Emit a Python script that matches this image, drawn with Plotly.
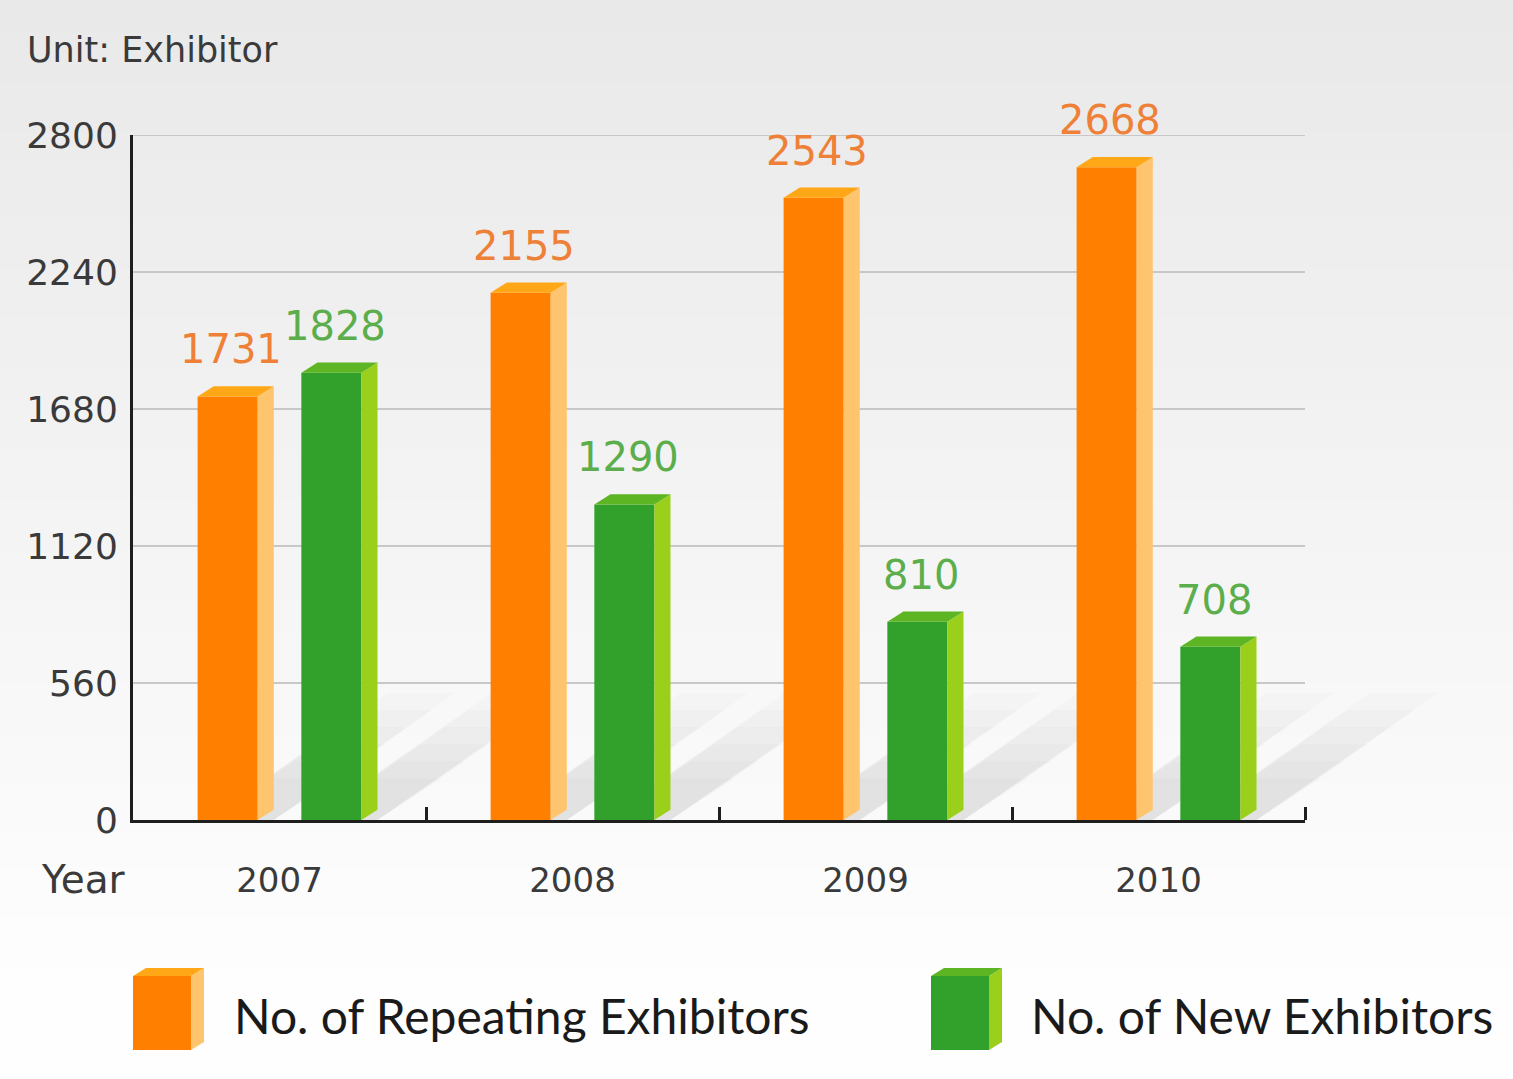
import plotly.graph_objects as go

# ---------------- data ----------------
years = ["2007", "2008", "2009", "2010"]
repeating = [1731, 2155, 2543, 2668]
new_exh = [1828, 1290, 810, 708]
y_ticks = [0, 560, 1120, 1680, 2240, 2800]
series_names = ["No. of Repeating Exhibitors", "No. of New Exhibitors"]

# ---------------- style ----------------
W_PX, H_PX = 1513, 1079
L, R, T, B = 133, 208, 135, 259
PW, PH = W_PX - L - R, H_PX - T - B

OFF = 0.177      # offset of each bar from category centre (x units)
BW = 0.205       # front face width (x units)
DEPTH = 0.055    # 3D depth (x units)
RISE = 42        # 3D rise (y units)

colors = {
    "rep": dict(front="#FF7F00", side="#FFC56E", top="#FFA716", label="#EE8037"),
    "new": dict(front="#32A12C", side="#9ACF1C", top="#5DB524", label="#5BAE4B"),
}
num_font = "DejaVu Sans"
leg_font = "Lato"
axis_text = "#3a3a3a"

centers = [i + 0.5 for i in range(len(years))]
X_RANGE = [0, len(years)]
Y_RANGE = [y_ticks[0], y_ticks[-1]]

fig = go.Figure()


def px2paper(px, py):
    return (px - L) / PW, (H_PX - B - py) / PH


def data2paper(x, y):
    return ((x - X_RANGE[0]) / (X_RANGE[1] - X_RANGE[0]),
            (y - Y_RANGE[0]) / (Y_RANGE[1] - Y_RANGE[0]))


# background gradient
shapes = []
n_bands = 60
for i in range(n_bands):
    y0p = i * 1000 / n_bands
    y1p = (i + 1) * 1000 / n_bands + 1
    t = i / (n_bands - 1)
    g = int(round(0xE9 + (0xFE - 0xE9) * t))
    c = f"rgb({g},{g},{g})"
    x0, y0 = px2paper(0, y0p)
    x1, y1 = px2paper(W_PX, y1p)
    shapes.append(dict(type="rect", xref="paper", yref="paper", x0=x0, x1=x1,
                       y0=y1, y1=y0, fillcolor=c, line=dict(width=0), layer="below"))
x0, y0 = px2paper(0, 1000)
x1, y1 = px2paper(W_PX, H_PX)
shapes.append(dict(type="rect", xref="paper", yref="paper", x0=x0, x1=x1, y0=y1, y1=y0,
                   fillcolor="#FEFEFE", line=dict(width=0), layer="below"))
# top gridline (at the range edge)
shapes.append(dict(type="line", xref="paper", yref="y", x0=0, x1=1,
                   y0=y_ticks[-1], y1=y_ticks[-1],
                   line=dict(color="#C8C8C8", width=2), layer="below"))


def add_shadows(vals, sign):
    xs_front_left = [c + sign * OFF - BW / 2 for c in centers]
    for xl, v in zip(xs_front_left, vals):
        xr = xl + BW + DEPTH
        for dx, dy in ((0.62, 520), (0.54, 450), (0.46, 380), (0.38, 310),
                       (0.30, 240), (0.22, 170)):
            pts = [data2paper(xl + 0.03, 0), data2paper(xr, 0),
                   data2paper(xr + dx, dy), data2paper(xl + 0.03 + dx, dy)]
            path = "M " + " L ".join(f"{x},{y}" for x, y in pts) + " Z"
            shapes.append(dict(type="path", xref="paper", yref="paper", path=path,
                               fillcolor="rgba(80,80,80,0.022)", line=dict(width=0),
                               layer="below"))


def add_series(vals, key, sign, name):
    col = colors[key]
    xs_front_left = [c + sign * OFF - BW / 2 for c in centers]
    # front faces
    fig.add_trace(go.Bar(
        x=centers, y=vals, width=BW, offset=sign * OFF - BW / 2,
        marker=dict(color=col["front"], line=dict(width=0)),
        name=name, showlegend=False,
    ))
    # side + top faces
    for xl, v in zip(xs_front_left, vals):
        xr = xl + BW
        fig.add_trace(go.Scatter(
            x=[xr, xr, xr + DEPTH, xr + DEPTH, xr],
            y=[0, v, v + RISE, RISE, 0],
            fill="toself", mode="lines", line=dict(width=0),
            fillcolor=col["side"], hoverinfo="skip", showlegend=False))
        fig.add_trace(go.Scatter(
            x=[xl, xl + DEPTH, xr + DEPTH, xr, xl],
            y=[v, v + RISE, v + RISE, v, v],
            fill="toself", mode="lines", line=dict(width=0),
            fillcolor=col["top"], hoverinfo="skip", showlegend=False))
    # value labels
    for xl, v in zip(xs_front_left, vals):
        fig.add_annotation(x=xl + (BW + DEPTH) / 2 - 0.015, y=v + RISE, text=str(v),
                           xref="x", yref="y", yanchor="bottom", yshift=12,
                           showarrow=False,
                           font=dict(family=num_font, size=40, color=col["label"]))


add_shadows(repeating, -1)
add_shadows(new_exh, +1)
add_series(repeating, "rep", -1, series_names[0])
add_series(new_exh, "new", +1, series_names[1])


# legend (manual, 3D boxes)
def legend_box(px0, key):
    col = colors[key]
    fx0, fx1 = px0, px0 + 58
    fy0, fy1 = 976, 1050
    d, r = 13, 8

    def P(x, y):
        return px2paper(x, y)
    pts_front = [P(fx0, fy0), P(fx1, fy0), P(fx1, fy1), P(fx0, fy1)]
    pts_side = [P(fx1, fy0), P(fx1 + d, fy0 - r), P(fx1 + d, fy1 - r), P(fx1, fy1)]
    pts_top = [P(fx0, fy0), P(fx0 + d, fy0 - r), P(fx1 + d, fy0 - r), P(fx1, fy0)]
    for pts, c in ((pts_front, col["front"]), (pts_side, col["side"]), (pts_top, col["top"])):
        path = "M " + " L ".join(f"{x},{y}" for x, y in pts) + " Z"
        shapes.append(dict(type="path", xref="paper", yref="paper", path=path,
                           fillcolor=c, line=dict(width=0)))


legend_box(133, "rep")
legend_box(931, "new")
for px, text in ((232, series_names[0]), (1029, series_names[1])):
    x, y = px2paper(px, 1015)
    fig.add_annotation(x=x, y=y, xref="paper", yref="paper", text=text,
                       xanchor="left", yanchor="middle", showarrow=False,
                       font=dict(family=leg_font, size=48, color="#1a1a1a"))

# "Unit" and "Year"
x, y = px2paper(25, 50)
fig.add_annotation(x=x, y=y, xref="paper", yref="paper", text="Unit: Exhibitor",
                   xanchor="left", yanchor="middle", showarrow=False,
                   font=dict(family=num_font, size=35, color=axis_text))
x, y = px2paper(128, 880)
fig.add_annotation(x=x, y=y, xref="paper", yref="paper", text="Year",
                   xanchor="right", yanchor="middle", showarrow=False,
                   font=dict(family=num_font, size=39, color=axis_text))

fig.update_layout(
    width=W_PX, height=H_PX,
    margin=dict(l=L, r=R, t=T, b=B, pad=0),
    paper_bgcolor="white", plot_bgcolor="rgba(0,0,0,0)",
    barmode="overlay", showlegend=False,
    shapes=shapes,
    xaxis=dict(range=X_RANGE, tickmode="array", tickvals=centers,
               ticktext=years, ticks="", showgrid=False, zeroline=False,
               showline=True, linecolor="#1e1e1e", linewidth=3,
               tickfont=dict(family=num_font, size=34, color=axis_text),
               ticklabelstandoff=28, fixedrange=True,
               minor=dict(tickmode="array", tickvals=list(range(1, len(years) + 1)),
                          ticks="inside", ticklen=13, tickwidth=3,
                          tickcolor="#1e1e1e", showgrid=False)),
    yaxis=dict(range=Y_RANGE, tickmode="array", tickvals=y_ticks,
               ticktext=[str(v) for v in y_ticks], ticks="",
               showgrid=True, gridcolor="#C8C8C8", gridwidth=2, zeroline=False,
               showline=True, linecolor="#1e1e1e", linewidth=3,
               tickfont=dict(family=num_font, size=36, color=axis_text),
               ticklabelstandoff=5, fixedrange=True),
)

fig.write_html(
    "out.html",
    config={"displayModeBar": False},
    post_script="document.body.style.margin='0';document.body.style.overflow='hidden';",
)
